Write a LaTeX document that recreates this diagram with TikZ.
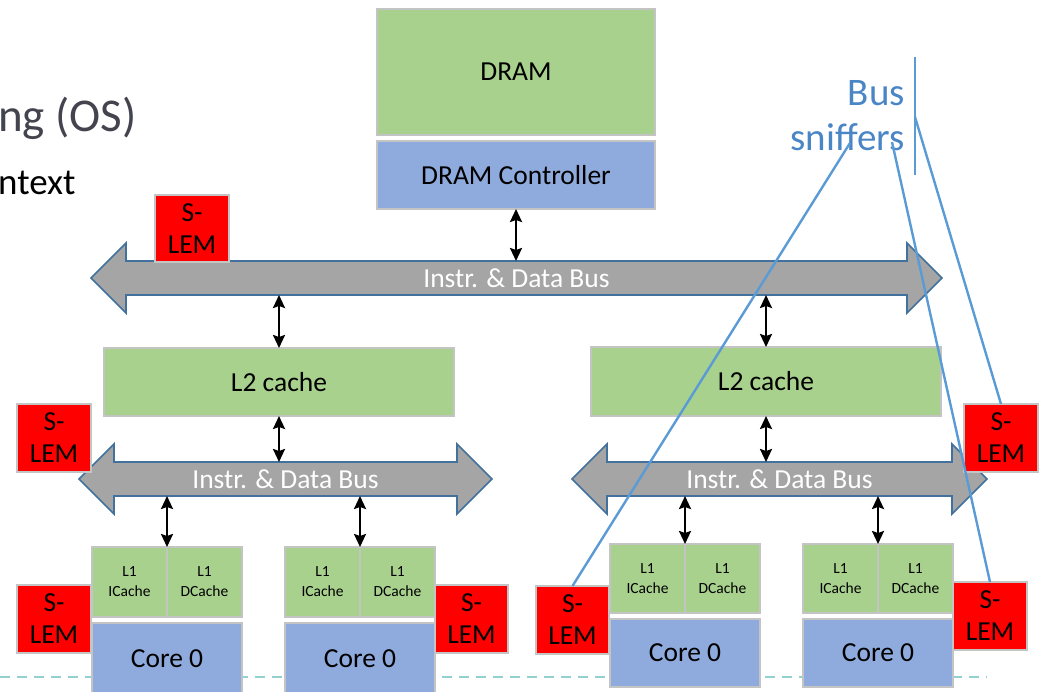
\documentclass[tikz,border=0pt]{standalone}
\usepackage{fontspec}
\setmainfont{Carlito}
\usetikzlibrary{arrows.meta,calc}

\definecolor{cachegreen}{HTML}{A9D18E}
\definecolor{coreblue}{HTML}{8FAADC}
\definecolor{lemred}{HTML}{FF0000}
\definecolor{busgray}{HTML}{A5A5A5}
\definecolor{busrim}{HTML}{41719C}
\definecolor{boxrim}{HTML}{C4C4C4}
\definecolor{sniff}{HTML}{5B9BD5}
\definecolor{snifftext}{HTML}{4A86C6}
\definecolor{slate}{HTML}{44444F}
\definecolor{guide}{HTML}{93D0D0}

\tikzset{
  blk/.style={draw=boxrim, line width=1.2pt, inner sep=0pt, outer sep=0pt,
    anchor=north west, align=center, font=\fontsize{27.5}{32}\selectfont},
  mem/.style={blk, fill=cachegreen},
  ctrl/.style={blk, fill=coreblue},
  lem/.style={blk, fill=lemred, minimum width=74pt, minimum height=68pt},
  l1/.style={blk, fill=cachegreen, minimum width=75pt, minimum height=70pt,
    font=\fontsize{15.5}{20}\selectfont},
  core/.style={blk, fill=coreblue, minimum width=150pt, minimum height=72pt},
  link/.style={line width=2.3pt,
    {Stealth[length=13pt,width=12pt,inset=2pt]}-{Stealth[length=13pt,width=12pt,inset=2pt]}},
  buslabel/.style={inner sep=0pt, outer sep=0pt, text=white,
    font=\fontsize{27.5}{32}\selectfont},
  busshape/.style={draw=busrim, fill=busgray, line width=1.6pt, line join=miter},
  sniffline/.style={draw=sniff, line width=2.4pt},
}

% double-headed bus: name, left tip x, right tip x, centre y, label
\newcommand\busbar[5]{%
  \path[busshape] (#2,#4) -- (#2+35,#4-35) -- (#2+35,#4-17) -- (#3-35,#4-17)
    -- (#3-35,#4-35) -- (#3,#4) -- (#3-35,#4+35) -- (#3-35,#4+17)
    -- (#2+35,#4+17) -- (#2+35,#4+35) -- cycle;
  \node[buslabel, minimum width={#3-#2-70}, minimum height=34pt]
    (#1) at ({(#2+#3)/2},#4) {#5};
}

\begin{document}
\begin{tikzpicture}[x=1pt,y=-1pt]
\useasboundingbox (0,0) rectangle (1040,691);

% slide text behind the figure
\node[anchor=base west, inner sep=0pt, text=slate, font=\fontsize{47}{56}\selectfont]
  (heading) at (-2,131) {ng (OS)};
\node[anchor=base west, inner sep=0pt, text=black, font=\fontsize{37}{44}\selectfont]
  (bullet) at (-2,194) {ntext};

% dashed guide line
\draw[guide, line width=1.5pt, dash pattern=on 10pt off 7pt] (0,677) -- (987,677);

% memory
\node[mem, minimum width=278pt, minimum height=126pt] (dram) at (377,9) {DRAM};
\node[ctrl, minimum width=278pt, minimum height=68pt] (dramctl) at (377,141) {DRAM Controller};

% buses
\busbar{busTop}{91}{942}{278}{Instr. \& Data Bus}
\busbar{busL}{79}{492}{479}{Instr. \& Data Bus}
\busbar{busR}{572}{987}{479}{Instr. \& Data Bus}

% L2 caches
\node[mem, minimum width=350pt, minimum height=68pt] (l2L) at (104,348) {L2 cache};
\node[mem, minimum width=350pt, minimum height=69pt] (l2R) at (591,347) {L2 cache};

% cores with split L1 caches
\node[l1] (l1iA) at (92,547) {L1\\ICache};
\node[l1] (l1dA) at (167,547) {L1\\DCache};
\node[core] (coreA) at (92,623) {Core 0};

\node[l1] (l1iB) at (285,547) {L1\\ICache};
\node[l1] (l1dB) at (360,547) {L1\\DCache};
\node[core] (coreB) at (285,623) {Core 0};

\node[l1, minimum height=69pt] (l1iC) at (610,544) {L1\\ICache};
\node[l1, minimum height=69pt] (l1dC) at (685,544) {L1\\DCache};
\node[core, minimum height=68pt] (coreC) at (610,619) {Core 0};

\node[l1, minimum height=69pt] (l1iD) at (803,544) {L1\\ICache};
\node[l1, minimum height=69pt] (l1dD) at (878,544) {L1\\DCache};
\node[core, minimum height=68pt] (coreD) at (803,619) {Core 0};

% S-LEM monitors
\node[lem, minimum height=67pt] (lemTop) at (155,195) {S-\\LEM};
\node[lem] (lemML) at (17,404) {S-\\LEM};
\node[lem] (lemMR) at (964,404) {S-\\LEM};
\node[lem] (lemA) at (17,585) {S-\\LEM};
\node[lem, minimum width=73pt] (lemB) at (435,585) {S-\\LEM};
\node[lem, minimum width=73pt] (lemC) at (536,586) {S-\\LEM};
\node[lem] (lemD) at (953,582) {S-\\LEM};

% bidirectional links
\draw[link] (dramctl.south) -- (dramctl.south |- busTop.north);
\draw[link] (l2L.north) -- (l2L.north |- busTop.south);
\draw[link] (l2R.north) -- (l2R.north |- busTop.south);
\draw[link] (l2L.south) -- (l2L.south |- busL.north);
\draw[link] (l2R.south) -- (l2R.south |- busR.north);
\draw[link] (l1iA.north east) -- (l1iA.north east |- busL.south);
\draw[link] (l1iB.north east) -- (l1iB.north east |- busL.south);
\draw[link] (l1iC.north east) -- (l1iC.north east |- busR.south);
\draw[link] (l1iD.north east) -- (l1iD.north east |- busR.south);

% bus sniffers callout
\node[anchor=base east, inner sep=0pt, text=snifftext, font=\fontsize{39}{45}\selectfont]
  (busword) at (905,105) {Bus};
\node[anchor=base east, inner sep=0pt, text=snifftext, font=\fontsize{39}{45}\selectfont]
  (sniffword) at (905,150) {sniffers};
\coordinate (barTop) at (915,57);
\coordinate (barBot) at (915,175);
\coordinate (tapA) at (850,143);
\coordinate (tapB) at (892,142);
\coordinate (tapC) at (915,117);
\draw[sniffline] (barTop) -- (barBot);
\draw[sniffline] (tapA) -- (lemC.north);
\draw[sniffline] (tapB) -- (lemD.north);
\draw[sniffline] (tapC) -- (lemMR.north);
\end{tikzpicture}
\end{document}
